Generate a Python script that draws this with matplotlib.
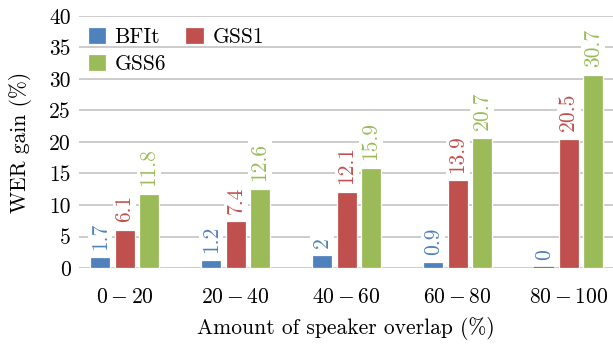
import matplotlib
matplotlib.use("Agg")
import matplotlib.pyplot as plt
import numpy as np

categories = ["$0-20$", "$20-40$", "$40-60$", "$60-80$", "$80-100$"]
series_names = ["BFIt", "GSS1", "GSS6"]
bfit = [1.7, 1.2, 2.0, 0.9, 0.0]
gss1 = [6.1, 7.4, 12.1, 13.9, 20.5]
gss6 = [11.8, 12.6, 15.9, 20.7, 30.7]
value_labels = [["1.7", "1.2", "2", "0.9", "0"],
                ["6.1", "7.4", "12.1", "13.9", "20.5"],
                ["11.8", "12.6", "15.9", "20.7", "30.7"]]
colors = ["#4F81BD", "#C0504D", "#9BBB59"]
yticks = [0, 5, 10, 15, 20, 25, 30, 35, 40]

plt.rcParams["font.family"] = ["cmr10", "DejaVu Serif"]
plt.rcParams["mathtext.fontset"] = "cm"
plt.rcParams["axes.formatter.use_mathtext"] = True

fig = plt.figure(figsize=(6.13, 3.45), dpi=100)
ax = fig.add_axes([0.129, 0.223, 0.871, 0.731])

x = np.arange(len(categories))
width = 0.18
offset = 0.219
fs = 15.5
handles = []
for i, (vals, c, name) in enumerate(zip([bfit, gss1, gss6], colors, series_names)):
    pos = x + (i - 1) * offset
    edges = [c if v == 0 else "white" for v in vals]
    lws = [1.6 if v == 0 else 0.9 for v in vals]
    b = ax.bar(pos, vals, width, color=c, edgecolor=edges, linewidth=lws, label=name, zorder=2)
    handles.append(b)
    for p, v, lab in zip(pos, vals, value_labels[i]):
        ax.annotate(lab, (p, v), xytext=(0, 5.5), textcoords="offset points",
                    rotation=90, ha="center", va="bottom", color=c, fontsize=fs,
                    bbox=dict(boxstyle="square,pad=0.1", fc="white", ec="none"), zorder=3)

ax.set_xlim(-0.41, 4.40)
ax.set_ylim(0, 40)
ax.set_yticks(yticks)
ax.set_yticklabels([str(t) for t in yticks], fontsize=fs)
ax.set_xticks(x)
ax.set_xticklabels(categories, fontsize=fs)
ax.tick_params(length=0, pad=6)
ax.tick_params(axis="x", pad=14)
for s in ax.spines.values():
    s.set_visible(False)
ax.yaxis.grid(True, color="#C8C8C8", linewidth=1.3, zorder=0)
ax.set_axisbelow(True)
ax.set_ylabel("WER gain (%)", fontsize=fs, labelpad=12)
ax.set_xlabel("Amount of speaker overlap (%)", fontsize=fs, labelpad=7)

leg = ax.legend([handles[0], handles[2], handles[1]], ["BFIt", "GSS6", "GSS1"],
                ncol=2, loc="upper left", bbox_to_anchor=(0.0, 0.99), frameon=False,
                fontsize=fs, handlelength=0.85, handleheight=0.85, handletextpad=0.4,
                columnspacing=0.9, labelspacing=0.33, borderaxespad=0.0)

fig.savefig("out.png", dpi=100)
